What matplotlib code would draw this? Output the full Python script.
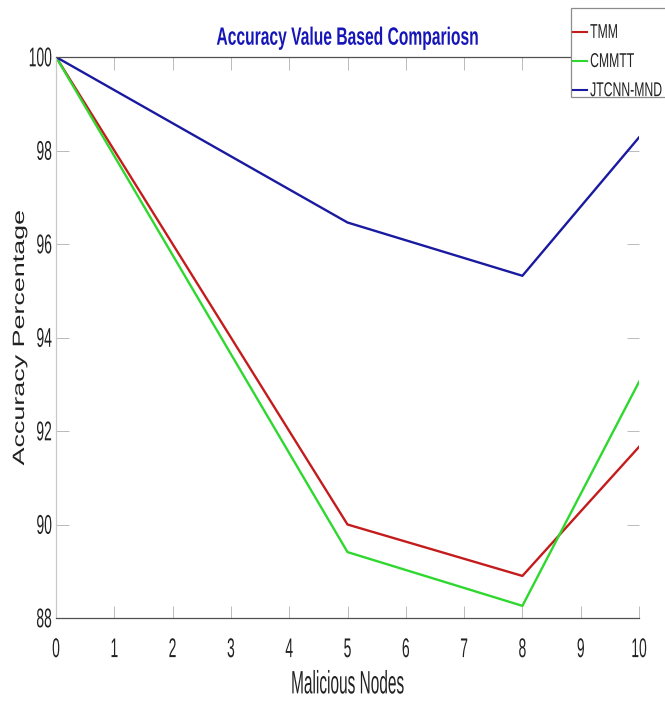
import matplotlib
matplotlib.use("Agg")
import matplotlib.pyplot as plt
from matplotlib.patheffects import AbstractPathEffect
from matplotlib.transforms import Affine2D
from matplotlib.patches import Rectangle

# ---- data ----
x_nodes = [0, 5, 8, 10]
tmm = [100, 90.0, 88.9, 91.66]
cmmtt = [100, 89.41, 88.26, 93.05]
jtcnn = [100, 96.46, 95.32, 98.28]
series_names = ["TMM", "CMMTT", "JTCNN-MND"]
series_colors = ["#c41c1c", "#2ed82e", "#1a1aa0"]
x_ticks = list(range(0, 11))
y_ticks = [88, 90, 92, 94, 96, 98, 100]
title_text = "Accuracy Value Based Compariosn"
x_label = "Malicious Nodes"
y_label = "Accuracy Percentage"


class VStretch(AbstractPathEffect):
    """Stretch glyphs vertically about the text's centre (tall, narrow lettering)."""
    def __init__(self, text, sy):
        super().__init__()
        self.text = text
        self.sy = sy

    def draw_path(self, renderer, gc, tpath, affine, rgbFace=None):
        bb = self.text.get_window_extent(renderer)
        cy = 0.5 * (bb.y0 + bb.y1)
        new = affine + Affine2D().translate(0, -cy).scale(1.0, self.sy).translate(0, cy)
        renderer.draw_path(gc, tpath, new, rgbFace)


def stretch(text, sy):
    text.set_path_effects([VStretch(text, sy)])


FONT = ["Liberation Sans", "DejaVu Sans"]
plt.rcParams["font.family"] = FONT

W, H = 665, 701
fig = plt.figure(figsize=(W / 100, H / 100), dpi=100)
ax = fig.add_axes([56 / W, 1 - 618 / H, (639 - 56) / W, (618 - 57) / H])

for vals, name, col in zip([tmm, cmmtt, jtcnn], series_names, series_colors):
    ax.plot(x_nodes, vals, color=col, lw=1.7, label=name)

ax.set_xlim(0, 10)
ax.set_ylim(88, 100)
ax.set_xticks(x_ticks)
ax.set_yticks(y_ticks)
ax.tick_params(direction="in", length=9, width=0.6, color="#b0b0b0",
               top=True, right=True, labelsize=10, labelcolor="#222222")
ax.tick_params(axis="x", pad=17.5)
ax.tick_params(axis="y", pad=3)
for t in ax.xaxis.get_major_ticks() + ax.yaxis.get_major_ticks():
    stretch(t.label1, 1.95)

ax.spines["right"].set_visible(False)
ax.spines["left"].set_color("#c8c8c8")
ax.spines["bottom"].set_color("#505050")
ax.spines["top"].set_color("#505050")
for s in ax.spines.values():
    s.set_linewidth(0.9)

xl = ax.set_xlabel(x_label, fontsize=11.1, color="#222222")
stretch(xl, 2.1)
ax.xaxis.set_label_coords(0.5, (618 - 685) / 561)
xl.set_va("center")

yl = ax.set_ylabel(y_label, fontsize=11.8, color="#222222")
stretch(yl, 1.64)
ax.yaxis.set_label_coords((19.5 - 56) / 583, 0.5)
yl.set_va("center")

tt = ax.set_title(title_text, fontsize=11.25, fontweight="bold", color="#1616b8",
                  y=(618 - 37.5) / 561, va="center", pad=0)
stretch(tt, 1.6)

# legend box (runs past the right edge as in the reference)
box = Rectangle((571 / W, 1 - 97 / H), 200 / W, 89 / H, transform=fig.transFigure,
                facecolor="white", edgecolor="#8c8c8c", linewidth=0.9, zorder=5)
fig.patches.append(box)

leg = fig.legend(loc="upper left", bbox_to_anchor=(573 / W, 1 - 27 / H), frameon=False,
                 handlelength=1.15, handletextpad=0.25, borderpad=0.0,
                 labelspacing=1.4, prop={"family": FONT, "size": 8.8},
                 borderaxespad=0)
leg.set_zorder(6)
for txt in leg.get_texts():
    stretch(txt, 1.64)
    txt.set_color("#222222")
for ln in leg.get_lines():
    ln.set_linewidth(1.5)

fig.savefig("out.png", dpi=100)
